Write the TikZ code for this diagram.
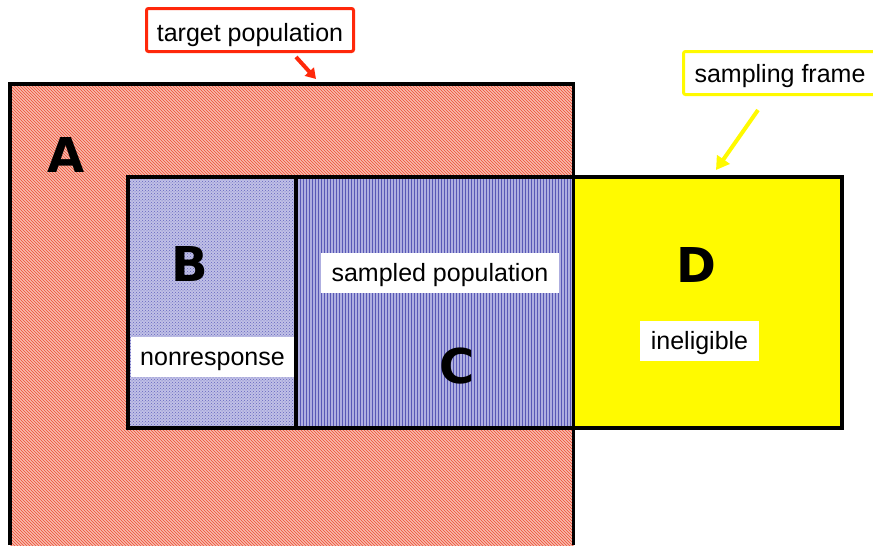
\documentclass[tikz,border=0pt]{standalone}
\usepackage{fontspec}
\setmainfont{Liberation Sans}
\newfontfamily\blockfont{DejaVu Sans}
\usetikzlibrary{patterns,arrows.meta}

\definecolor{tpred}{RGB}{255,40,10}
\definecolor{sfyellow}{RGB}{255,250,0}
\definecolor{fillA}{RGB}{246,188,174}
\definecolor{hatchA}{RGB}{240,75,50}
\definecolor{fillB}{RGB}{192,192,230}
\definecolor{hatchB}{RGB}{100,100,190}
\definecolor{fillC}{RGB}{174,174,224}
\definecolor{hatchC}{RGB}{88,88,182}

\begin{document}
\begin{tikzpicture}[x=1pt,y=-1pt,
    border/.style={draw=black,line width=3.5pt},
    tag/.style={fill=white,inner sep=0pt,minimum height=40pt,text height=20pt,text depth=3pt,font=\fontsize{25}{28}\selectfont},
    letter/.style={font=\blockfont\bfseries\fontsize{48}{50}\selectfont},
    callout/.style={fill=white,line width=3pt,rounded corners=2pt,inner sep=0pt,minimum height=43pt,font=\fontsize{25}{28}\selectfont},
    pointer/.style={line width=4pt,-{Triangle[length=13pt,width=15pt]}}]
  \useasboundingbox (0,0) rectangle (873,546);

  % the four regions
  \path[fill=fillA,postaction={pattern=north west lines,pattern color=hatchA}] (10,84) rectangle (573.5,546);
  \path[fill=fillB,postaction={pattern=crosshatch dots,pattern color=hatchB}] (128,177) rectangle (296,428);
  \path[fill=fillC,postaction={pattern=vertical lines,pattern color=hatchC}] (296,177) rectangle (573.5,428);
  \path[fill=sfyellow] (573.5,177) rectangle (842,428);

  % outlines
  \draw[border] (10,545) -- (10,84) -- (573.5,84) -- (573.5,545);
  \draw[border] (128,177) rectangle (842,428);
  \draw[border] (296,177) -- (296,428);

  % labels inside
  \node[letter] (lA) at (66,155) {A};
  \node[letter] (lB) at (190,264) {B};
  \node[letter] (lC) at (457,366) {C};
  \node[letter] (lD) at (696,265) {D};
  \node[tag,minimum width=163pt] (nonresp) at (212.5,356.5) {nonresponse};
  \node[tag,minimum width=238pt] (sampled) at (440,272.5) {sampled population};
  \node[tag,minimum width=119pt] (inelig) at (699.5,340.5) {ineligible};

  % callouts
  \node[callout,draw=tpred,minimum width=207pt,text height=24pt,text depth=1pt] (tp) at (250,30) {target population};
  \node[callout,draw=sfyellow,minimum width=193pt,text height=22pt,text depth=3pt] (sf) at (780,73) {sampling frame};
  \coordinate (tpTail) at (296,57);
  \coordinate (tpHead) at (316,79);
  \coordinate (sfTail) at (758,110);
  \coordinate (sfHead) at (716,170);
  \draw[pointer,draw=tpred,-{Triangle[length=10pt,width=12pt]}] (tpTail) -- (tpHead);
  \draw[pointer,draw=sfyellow] (sfTail) -- (sfHead);
\end{tikzpicture}
\end{document}
